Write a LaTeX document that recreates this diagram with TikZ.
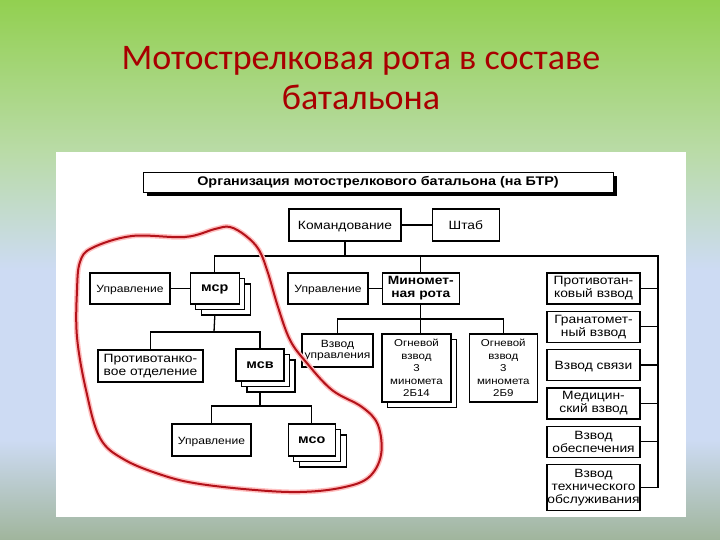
\documentclass[tikz,border=0pt]{standalone}
\usepackage{fontspec}
\setmainfont{Liberation Sans}[FakeStretch=1.15]
\newfontfamily\titlefont{Carlito}
\usepackage{tikz}
\usetikzlibrary{positioning,shadows}
\definecolor{titlered}{HTML}{A80000}
\definecolor{bgtop}{HTML}{92D050}
\definecolor{bgmid}{HTML}{B9DBA6}
\definecolor{bgblue}{HTML}{CDDBF3}
\definecolor{bgbottom}{HTML}{A0B59C}
\definecolor{loopred}{HTML}{B3121A}

\begin{document}
\begin{tikzpicture}[
        x=1pt, y=-1pt,
        node distance=6pt,
        block/.style={rectangle, draw=black, line width=1.3pt, fill=white, inner sep=0.5pt, align=center, minimum width=80pt, minimum height=31pt, font=\fontsize{10.5}{12}\selectfont},
        oneline/.style={text height=8.5pt, text depth=0pt},
        stack/.style={block, minimum width=48pt, font=\bfseries\fontsize{12.5}{13}\selectfont, text height=6.5pt, text depth=0pt, double copy shadow={shadow xshift=5.5pt, shadow yshift=-5.5pt}},
        platoon/.style={block, minimum width=93pt, font=\fontsize{12}{13}\selectfont},
        fire/.style={block, minimum width=68pt, minimum height=68pt, font=\fontsize{10}{12.5}\selectfont},
        slidetitle/.style={anchor=base, text=titlered, font=\titlefont\fontsize{36}{40}\selectfont},
        line/.style={draw, line width=1.3pt},
        outline/.style={draw=loopred, line width=2pt, preaction={draw=red!25, line width=5pt}}
    ]
        \useasboundingbox (0,0) rectangle (720,540);
        % Background
        \shade[top color=bgtop, bottom color=bgmid] (0,0) rectangle (720,150);
        \shade[top color=bgmid, bottom color=bgblue] (0,150) rectangle (720,270);
        \fill[bgblue] (0,270) rectangle (720,440);
        \shade[top color=bgblue, bottom color=bgbottom] (0,440) rectangle (720,540);
        \fill[white] (56,152) rectangle (686,517);

        % Title
        \node[slidetitle] (title) at (361,70) {Мотострелковая рота в составе};
        \node[slidetitle] (title2) at (361,110) {батальона};

        % Battalion
        \node[draw, line width=0.8pt, fill=white, minimum width=470pt, minimum height=20pt, drop shadow={shadow xshift=4pt, shadow yshift=-4pt, fill=black, opacity=1}, font=\bfseries\fontsize{12.5}{13}\selectfont] (header) at (378,182) {Организация мотострелкового батальона (на БТР)};
        \node[block, oneline, minimum width=112pt, minimum height=32pt, font=\fontsize{12}{13}\selectfont] (kom) at (345,225) {Командование};
        \node[block, oneline, minimum width=67pt, minimum height=32pt, font=\fontsize{12}{13}\selectfont] (shtab) [right=30pt of kom] {Штаб};

        % Company
        \node[block, oneline] (upr1) at (130,288.5) {Управление};
        \node[stack, minimum width=49pt] (msr) [right=19pt of upr1] {мср};
        \node[block, minimum width=105pt, minimum height=32pt, align=left, font=\fontsize{12}{13}\selectfont] (ptotd) at (150.5,366) {Противотанко-\\вое отделение};
        \node[stack, minimum height=32pt] (msv) at (260,365) {мсв};
        \node[block, oneline, minimum width=79pt, minimum height=32pt] (upr3) at (211.5,440) {Управление};
        \node[stack, minimum width=47pt, minimum height=32pt] (mso) [right=36pt of upr3] {мсо};

        % Mortar company
        \node[block, oneline] (upr2) at (328,288.5) {Управление};
        \node[block, minimum width=77pt, font=\bfseries\fontsize{12}{13}\selectfont] (minrota) [right=13pt of upr2] {Миномет-\\ная рота};
        \node[block, minimum width=71pt, minimum height=33pt, font=\fontsize{10.5}{11.5}\selectfont] (vzupr) at (337.5,350.5) {Взвод\\управления};
        \node[fire, minimum width=69pt, copy shadow={shadow xshift=5.5pt, shadow yshift=-5.5pt}] (ov1) at (416.5,368) {Огневой\\взвод\\3\\миномета\\2Б14};
        \node[fire] (ov2) [right=17pt of ov1] {Огневой\\взвод\\3\\миномета\\2Б9};

        % Platoons
        \node[platoon] (ptv) at (593.5,288.5) {Противотан-\\ковый взвод};
        \node[platoon] (grv) [below=of ptv] {Гранатомет-\\ный взвод};
        \node[platoon, oneline] (svz) [below=of grv] {Взвод связи};
        \node[platoon] (med) [below=of svz] {Медицин-\\ский взвод};
        \node[platoon] (obs) [below=of med] {Взвод\\обеспечения};
        \node[platoon, minimum height=46pt] (tex) [below=of obs] {Взвод\\технического\\обслуживания};

        % Connections
        \coordinate (bus) at (658,256);
        \coordinate (forkA) at (214,332);
        \coordinate (forkB) at (260,406);
        \coordinate (forkC) at (419.5,319);
        \draw[line] (kom) -- (shtab);
        \draw[line] (kom.south) -- (kom.south |- bus);
        \draw[line] (msr.north) |- (bus) |- (tex.east);
        \draw[line] (minrota.north) -- (minrota.north |- bus);
        \foreach \n in {ptv,grv,svz,med,obs}
            \draw[line] (\n.east) -- (\n.east -| bus);
        \draw[line] (upr1) -- (msr);
        \draw[line] (upr2) -- (minrota);
        \draw[line] ([yshift=-11pt]msr.south) -- (forkA);
        \draw[line] (ptotd.north) |- (forkA) -| (msv.north);
        \draw[line] ([yshift=-11pt]msv.south) -- (forkB);
        \draw[line] (upr3.north) |- (forkB) -| (mso.north);
        \draw[line] (minrota.south) -- (minrota.south |- ov1.north);
        \draw[line] (vzupr.north) |- (forkC) -| (ov2.north);

        % Company outline
        \draw[outline] plot[smooth cycle, tension=0.6] coordinates {(80,262) (92,248) (132,236) (185,237) (215,229) (230,227) (246,236) (259,250) (268,273) (278,307) (290,340) (306,362) (332,390) (362,407) (378,425) (381,455) (368,478) (340,488) (300,492) (255,490) (200,484) (165,476) (125,460) (100,438) (86,390) (77,337) (77,290)};
    \end{tikzpicture}
\end{document}
